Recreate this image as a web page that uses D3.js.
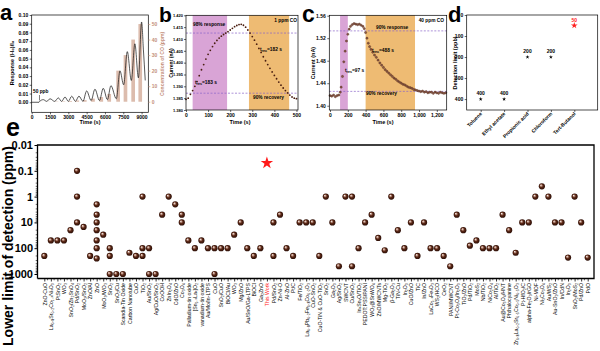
<!DOCTYPE html>
<html>
<head>
<meta charset="utf-8">
<script src="https://cdn.jsdelivr.net/npm/d3@7"></script>
<style>
  body { margin: 0; background: #fff; }
  svg { display: block; font-family: Arial, "Liberation Sans", sans-serif; }
</style>
</head>
<body>
<script>
// ---------- data ----------
// a: response curve key points and CO pulses
const respTime = [0, 600, 650, 950, 1230, 1500, 1880, 2180, 2450, 2730, 3000, 3280, 3580, 3870, 4200, 4500, 4870, 5180, 5550, 5860, 6200, 6490, 6930, 7230, 7530, 7830, 8160, 8450, 8740, 9000, 9150, 9300]
const respValue = [0, 0, 0.001, 0.003, 0.001, 0.004, 0.001, 0.005, 0.001, 0.006, 0.001, 0.007, 0.001, 0.007, 0.001, 0.013, 0.002, 0.015, 0.002, 0.016, 0.003, 0.019, 0.004, 0.036, 0.02, 0.058, 0.025, 0.067, 0.028, 0.092, 0.06, 0.025]
const coStart = [650, 1230, 1880, 2450, 3000, 3580, 4200, 4870, 5550, 6200, 6930, 7530, 8160, 8740]
const coPpm = [0.05, 0.1, 0.2, 0.3, 0.5, 0.8, 1, 2, 3, 5, 20, 30, 40, 50]
const coDuration = 300

// b: 1 ppm CO
const bTime = [0,10,20,30,40,50,60,70,80,90,100,110,120,130,140,150,160,170,180,190,200,210,220,230,240,250,260,270,280,290,300,310,320,330,340,350,360,370,380,390,400,410,420,430,440,450,460,470,480,490,500]
const bCurrent = [1.3845,1.3850,1.3866,1.3882,1.3900,1.3920,1.3945,1.3970,1.3992,1.4015,1.4035,1.4052,1.4068,1.4082,1.4094,1.4104,1.4112,1.4119,1.4125,1.4131,1.4138,1.4145,1.4152,1.4157,1.4161,1.4162,1.4158,1.4150,1.4138,1.4125,1.4110,1.4095,1.4078,1.4060,1.4043,1.4025,1.4008,1.3992,1.3976,1.3961,1.3946,1.3932,1.3918,1.3905,1.3893,1.3882,1.3872,1.3863,1.3855,1.3850,1.3848]

// c: 40 ppm CO
const cTime = [0,20,40,60,80,100,115,125,140,155,170,185,200,215,230,250,270,290,310,330,350,370,385,400,415,430,445,460,480,500,520,540,560,580,600,620,640,660,680,700,720,740,760,780,800,820,840,860,880,900,920,940,960,980,1000,1020,1040,1060,1080,1100,1120,1140,1160,1180,1200,1220,1240,1260,1280,1300]
const cCurrent = [1.418,1.417,1.419,1.416,1.418,1.419,1.424,1.433,1.452,1.478,1.497,1.515,1.527,1.536,1.541,1.544,1.546,1.545,1.544,1.545,1.543,1.541,1.537,1.530,1.520,1.511,1.505,1.500,1.495,1.490,1.486,1.481,1.476,1.472,1.468,1.464,1.461,1.458,1.455,1.452,1.449,1.447,1.444,1.442,1.440,1.438,1.437,1.435,1.433,1.432,1.431,1.429,1.428,1.427,1.426,1.425,1.426,1.424,1.425,1.423,1.424,1.424,1.422,1.424,1.423,1.422,1.424,1.423,1.422,1.423]

// d: other gases
const dGas = ["Toluene", "Ethyl acetate", "Propionic acid", "Chloroform", "Tert-Butanol"]
const dLimit = [400, 400, 200, 200, 50]

// e: literature comparison
const lodLabels = ["ZnO-CuO","La₀.₈Sr₀.₂Co₁₋ₓNiₓO₃","PtSnO₂","WO₃","SnO₂/Zn₂SnO₄","Pd/SnO₂","MoO₃/SnO₂","ZnO/Al","ZnO","MoO₃/WO₃","SnO₂","SnO₂/Cu","Scandia-Tin Oxide","Carbon Nanotube","CuO","TiO₂","Au/SnO₂","Ag/CuO/SnO₂","CoOOH","ZnIn₂O₄","CdO/ZnO","Co₃O₄","Palladium-tin oxide","[Sn₁₋ₓLaₓ]O₂","vanadium-tin oxide","Au/Mo/In-LTPS","CuO","SnO₂/CuO","BiOCl/Au","WO₃","Mg/ZnO","Au/SnO/Ga-LTPS","BiOCl","Ga₂ZnO","This Work","Pd/SnO₂","Zn-Ni-O","Al-ZnO","Pt/C","Fe/TiO₂","La₀.₈Pb₀.₂Fe₀.₈Co₀.₂O₃","CuO-SnO₂","CuO-TiN & CuO-TiO₂","SnO₂","Ga₂O₃","Ag/SnO₂","SWCNT","Cu/SnO₂","InₓSnᵧO/TiO₂","PEDOT:PSS/PANI","WO₃@SnWO₄","ZnO/MWCNTs","Mg-TiO₂","β-Ga₂O₃","TiN-Cu","In₂O₃","CuO/ZnO","TiC","In/ZnO","LaCo₁₋ₓFeₓO₃","WS₂/HCO","CeO₂","PANI/MWCNT","Pt-Co₃O₄/In₂O₃","TiO₂/ZnO","Pd/TiO₂","MoS₂","Nb/TiO₂","NiCo₂O₄","Al/TiO₂","Au@Co₃O₄/HNT","Phthalocyanine","Zr₀.₈La₀.₂Sr₀.₅Co₀.₅Ni₀.₅O₃","Pt-HfO₂/C","alpha-Fe₂O₃/rGO","Ni-MOF","Ni₃Co₃O₄","Au/WS₂","Au-SnO₂/ZnO","In/CdN","In₂O₃","SnO₂/MoS₂","Pd/ZnO","PdO"]
const lodValues = [[200],[50],[50],[50],[20],[0.1,1,10],[15],[200],[2,5,10,20,50,100,250],[30],
  [100,200,1000],[1000],[1000],[150],[200],[1,100,200],[100,1000],[1000],[5],[1],
  [2],[5,10],[50],[100],[50],[100],[100,1000],[100],[100],[30],
  [10],[100],[200],[100],[],[10,200],[5],[100],[200],[10],
  [10],[10],[200],[1],[10],[500],[1],[1,500],[100],[10],
  [5],[40],[120],[1],[20],[100],[10],[200],[10],[100],
  [100],[200],[500],[5],[20],[80],[50],[100],[100],[100],
  [5],[20],[150],[10],[10],[1],[0.4],[1],[10],[10],
  [230],[1],[10],[230]]
const thisWorkIndex = 34
const thisWorkLod = 0.05

// ---------- svg ----------
const width = 600, height = 351
const svg = d3.select("body").append("svg").attr("width", width).attr("height", height)

const defs = svg.append("defs")
const grad = defs.append("radialGradient").attr("id", "ball")
  .attr("cx", "50%").attr("cy", "50%").attr("r", "55%").attr("fx", "33%").attr("fy", "30%")
grad.append("stop").attr("offset", "0%").attr("stop-color", "#ffffff")
grad.append("stop").attr("offset", "20%").attr("stop-color", "#c9a394")
grad.append("stop").attr("offset", "50%").attr("stop-color", "#5c2816")
grad.append("stop").attr("offset", "100%").attr("stop-color", "#220903")

function styleAxis(g, size, weight) {
  g.attr("font-size", size).attr("font-family", "Arial, 'Liberation Sans', sans-serif")
    .attr("font-weight", weight || "bold")
  g.selectAll("line").attr("stroke-width", 0.6)
  g.select(".domain").remove()
}
function frame(x0, x1, y0, y1, sw) {
  svg.append("rect").attr("x", x0).attr("y", y0).attr("width", x1 - x0).attr("height", y1 - y0)
    .attr("fill", "none").attr("stroke", "#000").attr("stroke-width", sw || 0.7)
}
function label(x, y, txt, size, opts) {
  opts = opts || {}
  const t = svg.append("text").attr("x", x).attr("y", y).text(txt)
    .attr("font-size", size).attr("font-weight", opts.weight || "bold")
    .attr("text-anchor", opts.anchor || "start").attr("fill", opts.fill || "#000")
  if (opts.rotate) t.attr("transform", `rotate(${opts.rotate},${x},${y})`)
  return t
}
function subLabel(x, y, main, sub, rest, size) {
  const t = svg.append("text").attr("x", x).attr("y", y).attr("font-size", size).attr("font-weight", "bold")
  t.append("tspan").text(main)
  t.append("tspan").attr("dy", 1.2).attr("font-size", size * 0.75).text(sub)
  t.append("tspan").attr("dy", -1.2).text(rest)
}

// panel letters
label(0, 20, "a", 22)
label(159, 22, "b", 21)
label(302, 22, "c", 23)
label(448, 22, "d", 22)
label(6, 136, "e", 25)

// ---------- a ----------
const ax = d3.scaleLinear().domain([0, 9550]).range([31.7, 148.3])
const ay = d3.scaleLinear().domain([-0.0115, 0.1]).range([112.3, 15])
const ay2 = d3.scaleLinear().domain([-6.8, 55.8]).range([112.3, 15])

svg.append("g").selectAll("rect").data(coStart).enter().append("rect")
  .attr("x", (d) => ax(d))
  .attr("width", (d) => ax(d + coDuration) - ax(d))
  .attr("y", (d, i) => ay2(coPpm[i]))
  .attr("height", (d, i) => ay2(0) - ay2(coPpm[i]))
  .attr("fill", "#dcbcad")

const respLine = d3.line().x((d, i) => ax(respTime[i])).y((d) => ay(d)).curve(d3.curveMonotoneX)
svg.append("path").datum(respValue).attr("d", respLine)
  .attr("fill", "none").attr("stroke", "#111").attr("stroke-width", 0.7)

frame(31.7, 148.3, 15, 112.3)
styleAxis(svg.append("g").attr("transform", "translate(0,112.3)")
  .call(d3.axisBottom(ax).tickValues([0, 1500, 3000, 4500, 6000, 7500, 9000]).tickFormat(d3.format("d")).tickSize(2).tickPadding(1.5)), 5)
styleAxis(svg.append("g").attr("transform", "translate(31.7,0)")
  .call(d3.axisLeft(ay).tickValues(d3.range(0, 0.1001, 0.01)).tickFormat(d3.format(".2f")).tickSize(2).tickPadding(1.5)), 5)
const aRight = svg.append("g").attr("transform", "translate(148.3,0)")
  .call(d3.axisRight(ay2).tickValues([0, 10, 20, 30, 40, 50]).tickSize(2).tickPadding(1.5))
styleAxis(aRight, 5)
aRight.selectAll("text").attr("fill", "#c4907b")
aRight.selectAll("line").attr("stroke", "#c4907b")

label(90, 124, "Time (s)", 5.5, { anchor: "middle" })
label(14, 63, "Response (I-I₀)/I₀", 5.5, { anchor: "middle", rotate: -90 })
label(164, 64, "Concentration of CO (ppm)", 5, { anchor: "middle", rotate: -90, fill: "#c4907b" })
label(33, 93, "50 ppb", 4.8)
svg.append("line").attr("x1", ax(640)).attr("x2", ax(640)).attr("y1", 95).attr("y2", 100.5)
  .attr("stroke", "#000").attr("stroke-width", 0.5)

// ---------- b ----------
const bx = d3.scaleLinear().domain([0, 507]).range([186, 298])
const by = d3.scaleLinear().domain([1.38, 1.42]).range([110, 15.3])

svg.append("rect").attr("x", bx(30)).attr("width", bx(186) - bx(30)).attr("y", 15.3).attr("height", 110 - 15.3).attr("fill", "#d9a4d6")
svg.append("rect").attr("x", bx(285)).attr("width", bx(467) - bx(285)).attr("y", 15.3).attr("height", 110 - 15.3).attr("fill", "#eebb73")
;[1.4125, 1.3871].forEach((v) => {
  svg.append("line").attr("x1", 186).attr("x2", 298).attr("y1", by(v)).attr("y2", by(v))
    .attr("stroke", "#8a64c8").attr("stroke-width", 0.7).attr("stroke-dasharray", "2,1.5")
})
svg.append("g").selectAll("circle").data(bCurrent).enter().append("circle")
  .attr("cx", (d, i) => bx(bTime[i])).attr("cy", (d) => by(d)).attr("r", 0.9).attr("fill", "#4a1e10")

frame(186, 298, 15.3, 110)
styleAxis(svg.append("g").attr("transform", "translate(0,110)")
  .call(d3.axisBottom(bx).tickValues([0, 100, 200, 300, 400, 500]).tickSize(2).tickPadding(1.5)), 5)
styleAxis(svg.append("g").attr("transform", "translate(186,0)")
  .call(d3.axisLeft(by).tickValues(d3.range(1.38, 1.4201, 0.005)).tickFormat(d3.format(".3f")).tickSize(2).tickPadding(1)), 4)
label(240, 124, "Time (s)", 5.5, { anchor: "middle" })
label(173, 63, "Current (nA)", 5, { anchor: "middle", rotate: -90 })
label(193, 26, "98% response", 4.8)
label(297, 22, "1 ppm CO", 4.8, { anchor: "end" })
subLabel(260, 51, "t", "rec", "=182 s", 4.8)
subLabel(195, 84, "t", "res", "=183 s", 4.8)
label(253, 99, "90% recovery", 4.8)

// ---------- c ----------
const cx = d3.scaleLinear().domain([-8, 1311]).range([329.3, 446.7])
const cy = d3.scaleLinear().domain([1.3924, 1.5607]).range([110, 15.3])

svg.append("rect").attr("x", cx(113)).attr("width", cx(200) - cx(113)).attr("y", 15.3).attr("height", 110 - 15.3).attr("fill", "#d9a4d6")
svg.append("rect").attr("x", cx(400)).attr("width", cx(955) - cx(400)).attr("y", 15.3).attr("height", 110 - 15.3).attr("fill", "#eebb73")
;[1.533, 1.4255].forEach((v) => {
  svg.append("line").attr("x1", 329.3).attr("x2", 446.7).attr("y1", cy(v)).attr("y2", cy(v))
    .attr("stroke", "#8a64c8").attr("stroke-width", 0.7).attr("stroke-dasharray", "2,1.5")
})
svg.append("g").selectAll("circle").data(cCurrent).enter().append("circle")
  .attr("cx", (d, i) => cx(cTime[i])).attr("cy", (d) => cy(d)).attr("r", 1.1)
  .attr("fill", "#8a5a48").attr("stroke", "#4a1e10").attr("stroke-width", 0.4)

frame(329.3, 446.7, 15.3, 110)
styleAxis(svg.append("g").attr("transform", "translate(0,110)")
  .call(d3.axisBottom(cx).tickValues([0, 200, 400, 600, 800, 1000, 1200]).tickSize(2).tickPadding(1.5)), 5)
styleAxis(svg.append("g").attr("transform", "translate(329.3,0)")
  .call(d3.axisLeft(cy).tickValues([1.40, 1.44, 1.48, 1.52, 1.56]).tickFormat(d3.format(".2f")).tickSize(2).tickPadding(1.5)), 5)
label(383, 124, "Time (s)", 5.5, { anchor: "middle" })
label(315, 63, "Current (nA)", 5.5, { anchor: "middle", rotate: -90 })
label(376, 29, "90% response", 4.8)
label(444, 22, "40 ppm CO", 4.8, { anchor: "end" })
subLabel(372, 52, "t", "rec", "=488 s", 4.8)
subLabel(345, 72, "t", "res", "=97 s", 4.8)
label(366, 95, "90% recovery", 4.8)

// ---------- d ----------
const dx = d3.scalePoint().domain(dGas).range([480.7, 574.3])
const dy = d3.scaleLinear().domain([0, 452]).range([15, 110])

frame(466.7, 597.7, 15, 110)
styleAxis(svg.append("g").attr("transform", "translate(466.7,0)")
  .call(d3.axisLeft(dy).tickValues([0, 100, 200, 300, 400]).tickSize(2).tickPadding(1.5)), 5)
const dAxis = svg.append("g").attr("transform", "translate(0,110)")
  .call(d3.axisBottom(dx).tickSize(2))
styleAxis(dAxis, 5)
dAxis.selectAll("text").attr("transform", "rotate(-45)").attr("x", -2).attr("y", 2).attr("dy", "0.35em")
  .style("text-anchor", "end")
label(457, 63, "Detection limit (ppb)", 5.5, { anchor: "middle", rotate: -90 })

svg.append("g").selectAll("path").data(dGas).enter().append("path")
  .attr("transform", (d, i) => `translate(${dx(d)},${dy(dLimit[i])})`)
  .attr("d", (d, i) => d3.symbol(d3.symbolStar, i === 4 ? 14 : 5)())
  .attr("fill", (d, i) => i === 4 ? "#ff2020" : "#000")
svg.append("g").selectAll("text").data(dGas).enter().append("text")
  .attr("x", (d) => dx(d)).attr("y", (d, i) => dy(dLimit[i]) - 4)
  .attr("text-anchor", "middle").attr("font-size", 5).attr("font-weight", "bold")
  .attr("fill", (d, i) => i === 4 ? "#ff2020" : "#000")
  .text((d, i) => dLimit[i])

// ---------- e ----------
const ex = d3.scalePoint().domain(d3.range(lodLabels.length)).range([44.3, 587.7])
const ey = d3.scaleLog().domain([0.01, 1494]).range([145, 278.5])
const step = ex.step()

// minor x ticks between categories
svg.append("g").selectAll("line").data(d3.range(lodLabels.length - 1)).enter().append("line")
  .attr("x1", (i) => ex(i) + step / 2).attr("x2", (i) => ex(i) + step / 2)
  .attr("y1", 278.5).attr("y2", 280.3).attr("stroke", "#000").attr("stroke-width", 0.6)
const eX = svg.append("g").attr("transform", "translate(0,278.5)")
  .call(d3.axisBottom(ex).tickSize(3).tickFormat((i) => lodLabels[i]))
styleAxis(eX, 5.2, "normal")
eX.selectAll("line").attr("stroke-width", 0.8)
eX.selectAll("text").attr("transform", "rotate(-90)").attr("x", -4.5).attr("y", 0).attr("dy", "0.35em")
  .style("text-anchor", "end").attr("fill", (i) => i === thisWorkIndex ? "#ff1a1a" : "#000")

// minor y ticks
const minorY = []
;[0.01, 0.1, 1, 10, 100, 1000].forEach((dec) => {
  for (let k = 2; k <= 9; k++) if (dec * k < 1494) minorY.push(dec * k)
})
svg.append("g").selectAll("line").data(minorY).enter().append("line")
  .attr("x1", 35.7).attr("x2", 37.5).attr("y1", (d) => ey(d)).attr("y2", (d) => ey(d))
  .attr("stroke", "#000").attr("stroke-width", 0.6)
const eY = svg.append("g").attr("transform", "translate(37.5,0)")
  .call(d3.axisLeft(ey).tickValues([0.01, 0.1, 1, 10, 100, 1000]).tickFormat(d3.format("~g")).tickSize(3).tickPadding(1.5))
styleAxis(eY, 11)
eY.selectAll("line").attr("stroke-width", 1)

svg.append("path").attr("d", "M37.5,278.5V145H594V278.5H37.5")
  .attr("fill", "none").attr("stroke", "#000").attr("stroke-width", 1.3)

const balls = []
lodValues.forEach((vals, i) => vals.forEach((v) => balls.push({ i: i, v: v })))
svg.append("g").selectAll("circle").data(balls).enter().append("circle")
  .attr("cx", (d) => ex(d.i)).attr("cy", (d) => ey(d.v)).attr("r", 3.1)
  .attr("fill", "url(#ball)")

svg.append("path")
  .attr("transform", `translate(${ex(thisWorkIndex)},${ey(thisWorkLod)})`)
  .attr("d", d3.symbol(d3.symbolStar, 48)())
  .attr("fill", "#ff1a1a")

svg.append("text").attr("transform", "translate(13,246) rotate(-90)")
  .attr("text-anchor", "middle").attr("font-size", 14).attr("font-weight", "bold")
  .text("Lower limit of detection (ppm)")
</script>
</body>
</html>
